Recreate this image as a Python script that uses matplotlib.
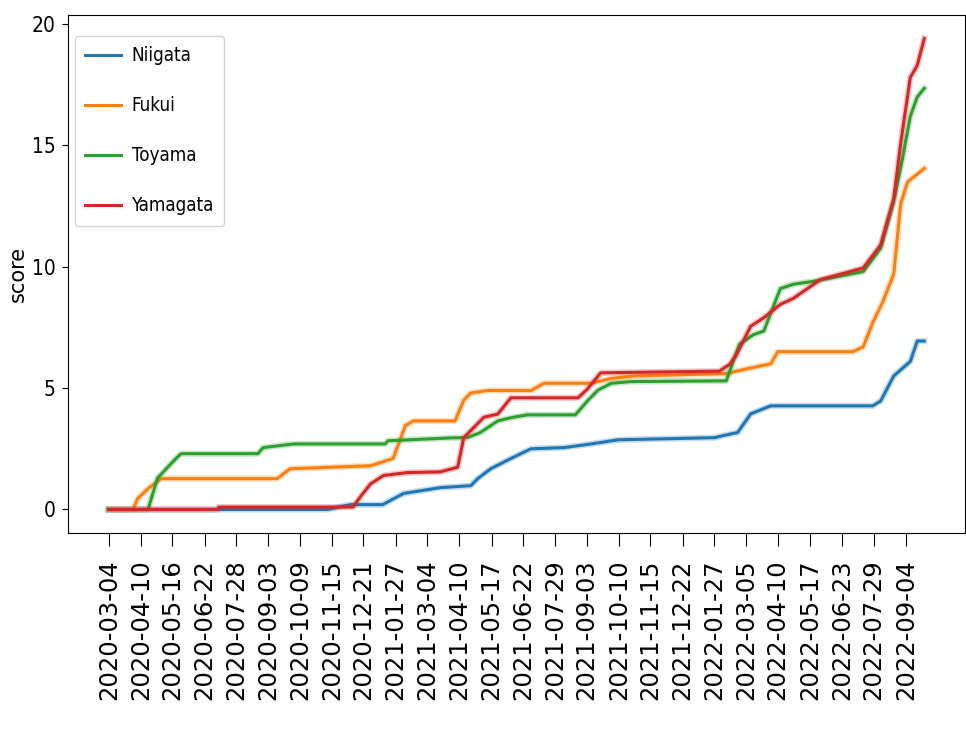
import matplotlib
matplotlib.use("Agg")
import matplotlib.pyplot as plt
import numpy as np

# series (date, score)
niigata_dates = ["2020-03-04", "2020-11-10", "2020-12-06", "2021-01-12", "2021-02-05",
                 "2021-03-19", "2021-04-23", "2021-05-01", "2021-05-16", "2021-06-08",
                 "2021-07-01", "2021-08-08", "2021-09-08", "2021-10-09", "2022-01-28",
                 "2022-02-06", "2022-02-23", "2022-03-10", "2022-04-02", "2022-07-28",
                 "2022-08-06", "2022-08-21", "2022-09-09", "2022-09-17", "2022-09-25"]
niigata_score = [0, 0, 0.2, 0.2, 0.66,
                 0.9, 0.98, 1.27, 1.68, 2.1,
                 2.5, 2.55, 2.7, 2.87, 2.96,
                 3.04, 3.17, 3.94, 4.27, 4.27,
                 4.47, 5.5, 6.1, 6.94, 6.94]

fukui_dates = ["2020-03-04", "2020-04-01", "2020-04-06", "2020-04-18", "2020-05-03",
               "2020-09-13", "2020-09-28", "2020-12-29", "2021-01-24", "2021-02-07",
               "2021-02-16", "2021-04-05", "2021-04-15", "2021-04-23", "2021-05-12",
               "2021-07-01", "2021-07-16", "2021-09-08", "2021-10-01", "2021-10-27",
               "2022-02-10", "2022-03-06", "2022-04-02", "2022-04-10", "2022-07-05",
               "2022-07-17", "2022-07-28", "2022-08-09", "2022-08-21", "2022-08-29",
               "2022-09-06", "2022-09-25"]
fukui_score = [0, 0, 0.45, 0.86, 1.27,
               1.27, 1.68, 1.8, 2.1, 3.45,
               3.65, 3.65, 4.5, 4.8, 4.9,
               4.9, 5.2, 5.2, 5.4, 5.5,
               5.6, 5.8, 6.0, 6.5, 6.5,
               6.7, 7.7, 8.6, 9.7, 12.6,
               13.5, 14.05]

toyama_dates = ["2020-03-04", "2020-04-18", "2020-04-29", "2020-05-20", "2020-05-26",
                "2020-08-22", "2020-08-28", "2020-10-02", "2021-01-15", "2021-01-18",
                "2021-03-31", "2021-04-19", "2021-05-04", "2021-05-24", "2021-06-08",
                "2021-06-27", "2021-08-21", "2021-09-04", "2021-09-16", "2021-10-01",
                "2021-10-24", "2022-02-10", "2022-02-25", "2022-03-13", "2022-03-25",
                "2022-04-13", "2022-04-28", "2022-05-21", "2022-07-17", "2022-08-06",
                "2022-08-21", "2022-08-31", "2022-09-09", "2022-09-17", "2022-09-25"]
toyama_score = [0, 0, 1.3, 2.1, 2.3,
                2.3, 2.55, 2.7, 2.7, 2.83,
                2.95, 2.96, 3.17, 3.65, 3.78,
                3.9, 3.9, 4.48, 4.92, 5.2,
                5.27, 5.3, 6.8, 7.2, 7.35,
                9.1, 9.28, 9.4, 9.8, 10.76,
                12.7, 14.45, 16.2, 17.0, 17.35]

yamagata_dates = ["2020-03-04", "2020-07-07", "2020-07-08", "2020-12-09", "2020-12-17",
                  "2020-12-29", "2021-01-13", "2021-02-09", "2021-03-19", "2021-04-08",
                  "2021-04-15", "2021-04-23", "2021-05-08", "2021-05-24", "2021-06-08",
                  "2021-08-24", "2021-09-04", "2021-09-19", "2022-02-02", "2022-02-14",
                  "2022-02-22", "2022-03-10", "2022-03-25", "2022-04-13", "2022-04-28",
                  "2022-05-14", "2022-05-29", "2022-07-17", "2022-08-06", "2022-08-21",
                  "2022-08-29", "2022-09-09", "2022-09-17", "2022-09-25"]
yamagata_score = [0, 0, 0.1, 0.1, 0.5,
                  1.05, 1.4, 1.52, 1.55, 1.74,
                  2.96, 3.25, 3.8, 3.93, 4.6,
                  4.6, 4.97, 5.63, 5.7, 5.98,
                  6.4, 7.55, 7.9, 8.45, 8.7,
                  9.1, 9.47, 9.95, 10.9, 12.8,
                  15.1, 17.8, 18.3, 19.4]

tick_labels = ["2020-03-04", "2020-04-10", "2020-05-16", "2020-06-22", "2020-07-28",
               "2020-09-03", "2020-10-09", "2020-11-15", "2020-12-21", "2021-01-27",
               "2021-03-04", "2021-04-10", "2021-05-17", "2021-06-22", "2021-07-29",
               "2021-09-03", "2021-10-10", "2021-11-15", "2021-12-22", "2022-01-27",
               "2022-03-05", "2022-04-10", "2022-05-17", "2022-06-23", "2022-07-29",
               "2022-09-04"]

series = [("Niigata", niigata_dates, niigata_score, "tab:blue"),
          ("Fukui", fukui_dates, fukui_score, "tab:orange"),
          ("Toyama", toyama_dates, toyama_score, "tab:green"),
          ("Yamagata", yamagata_dates, yamagata_score, "tab:red")]

fig = plt.figure(figsize=(9.66, 7.34), dpi=100)
ax = fig.add_axes([0.0704, 0.2738, 0.9286, 0.7057])

for name, d, s, c in series:
    x = np.array(d, dtype="datetime64[D]")
    ax.plot(x, s, color=c, lw=4.5, alpha=0.25)
    ax.plot(x, s, color=c, lw=2.2, label=name)

ticks = np.array(tick_labels, dtype="datetime64[D]")
ax.set_xticks(ticks)
ax.set_xticklabels(tick_labels, rotation=90, fontsize=17.5)
ax.tick_params(axis="x", length=9, pad=10)
ax.set_yticks([0, 5, 10, 15, 20])
for lab in ax.get_yticklabels():
    lab.set_fontsize(15)
    lab.set_fontstretch("condensed")
ax.tick_params(axis="y", length=4, pad=5)
ax.set_ylabel("score", fontsize=15, labelpad=3)

leg = ax.legend(loc="upper left", labelspacing=1.65, handlelength=1.9,
                handletextpad=0.6, borderpad=0.55, borderaxespad=0.35,
                bbox_to_anchor=(0.0, 0.972),
                prop={"size": 13.5, "stretch": "condensed"})

fig.savefig("out.png", dpi=100)
